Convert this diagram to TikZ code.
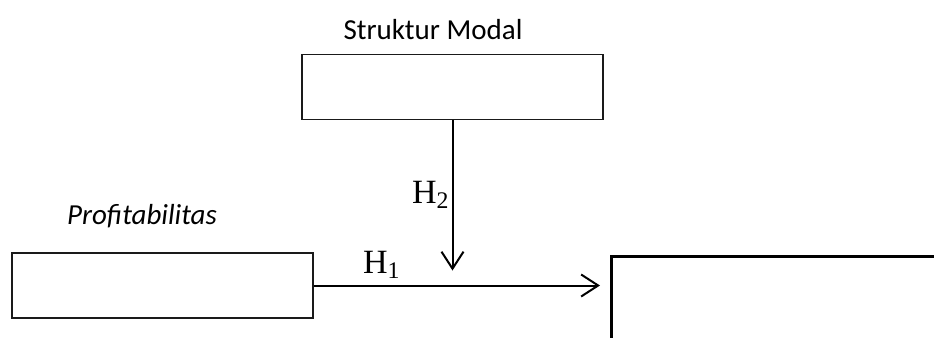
\documentclass[tikz,border=0pt]{standalone}
\usepackage{fontspec}
\setmainfont{Carlito}
\newfontfamily\hfont{Liberation Serif}
\usepackage{tikz}
\usetikzlibrary{arrows.meta,positioning}
\definecolor{Ink}{HTML}{000000}
\definecolor{Frame}{HTML}{1A1A1A}
\tikzset{
  varbox/.style={draw=Frame, line width=0.7pt, fill=white, minimum width=150.5pt, minimum height=32.5pt, inner sep=0pt},
  bigbox/.style={draw=Ink, line width=1.4pt, fill=white, minimum width=200pt, minimum height=100pt, inner sep=0pt},
  varlabel/.style={font=\fontsize{14.5}{17}\selectfont, inner sep=0pt},
  hyplabel/.style={font=\hfont\fontsize{17}{20}\selectfont, inner sep=1pt},
  arrow/.style={-{Straight Barb[length=8.5pt,width=11pt,line width=1pt]}, line width=1pt, draw=Ink}
}
\begin{document}
\begin{tikzpicture}[x=0.5pt, y=-0.5pt]
  \clip (0,0) rectangle (934,338);
  \node[varbox] (modal) at (452.5,87) {};
  \node[varbox] (profit) at (162.5,285.5) {};
  \node[bigbox, anchor=north west] (target) at (610,255) {};
  \node[varlabel] (modallab) at (433,30) {Struktur Modal};
  \node[varlabel] (profitlab) at (142,216) {\itshape Profitabilitas};
  \draw[arrow, shorten >=5pt] (profit.east) -- node[hyplabel, pos=0.23, above=2pt]{H\textsubscript{1}} (profit.east -| target.west);
  \draw[arrow, shorten >=7.5pt] (modal.south) -- node[hyplabel, pos=0.45, left=0pt]{H\textsubscript{2}} (modal.south |- profit.east);
\end{tikzpicture}
\end{document}
